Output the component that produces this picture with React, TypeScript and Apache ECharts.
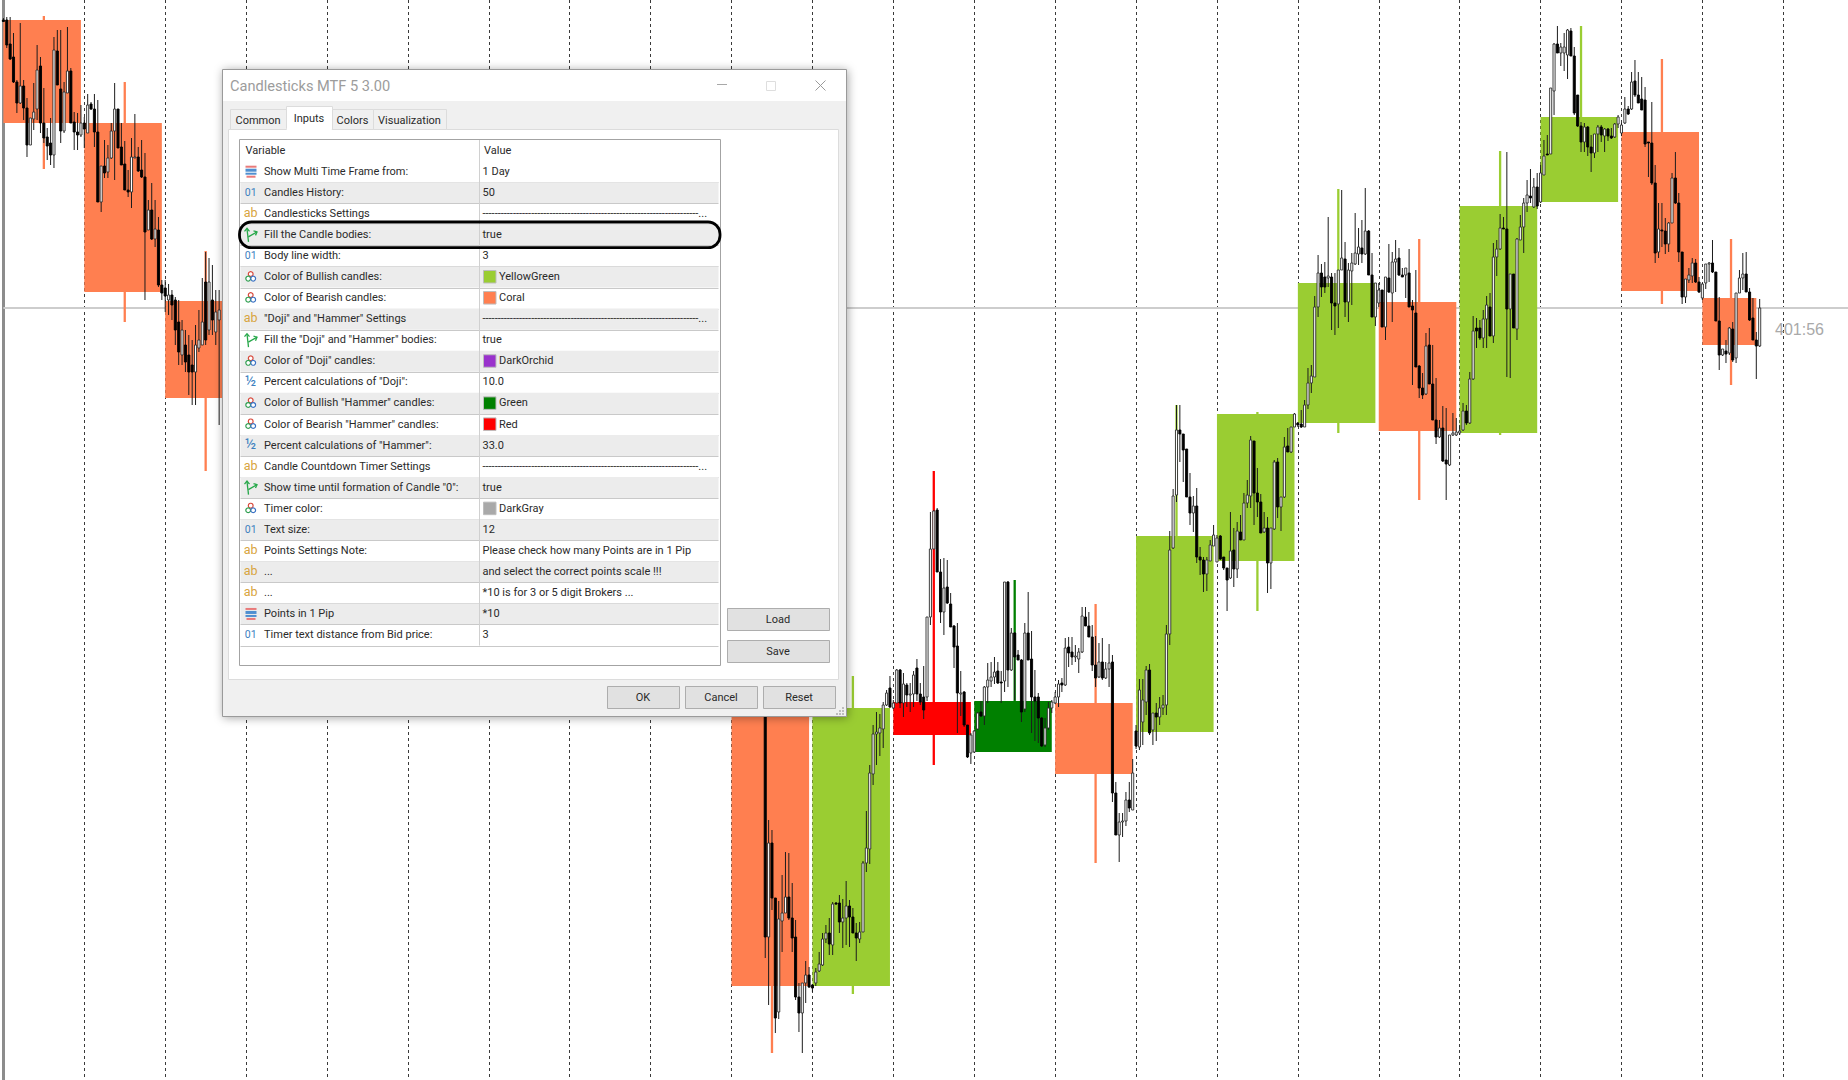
import React, { useEffect, useRef } from "react";
import * as echarts from "echarts";

// Price is read in points below the chart's ceiling, so the price axis runs downward.
const HOURS_PER_DAY = 24;
const AXIS_MIN = -24;
const AXIS_MAX = 523.2;
const BID_PRICE = 308;

// Daily candles (multi time frame bodies)
const dayIndex = [-1, 0, 1, 8, 9, 10, 11, 12, 13, 14, 15, 16, 17, 18, 19, 20];
const dayOpen = [20, 123, 301, 690, 986, 702, 752, 703, 732, 561, 423, 302, 433, 202, 132, 298];
const dayClose = [123, 292, 398, 986, 708, 735, 701, 774, 536, 414, 283, 431, 206, 117, 291, 345];
const dayHigh = [16, 82, 251, 690, 676, 471, 580, 604, 405, 412, 189, 239, 151, 26, 59, 239];
const dayLow = [169, 322, 471, 1053, 994, 765, 752, 863, 611, 611, 433, 500, 435, 202, 304, 385];
const dayKind = ["bear", "bear", "bear", "bear", "bull", "hammerBear", "hammerBull", "bear", "bull", "bull", "bull", "bear", "bull", "bull", "bear", "bear"];
const daySpan = [23, 23, 23, 23, 23, 23, 23, 23, 23, 23, 23, 23, 23, 23, 23, 16];

// Hourly candles: [open, close, high, low]
const barsDayM1 = [[20,21.5,18,21.5],[20,45,17,48],[44,59,17,60],[57,82,33,83],[82,103,80,113],[103,86,23,104],[86,108,80,120],[108,145,98,157],[145,118,118,145],[119,112,83,130],[109,70,45,120],[66,123,57,133],[123,138,88,143],[137,146,128,160],[143,155,118,165],[155,50,37,168],[51,85,30,85],[89,131,30,143],[131,92,82,133],[93,71,27,93],[71,123,68,123],[122,132,112,150],[132,135,113,150],[135,123,105,137]];
const barsDay0 = [[123,129,117,148],[133,105,94,133],[104,109,102,110],[109,132,94,147],[132,202,100,202],[202,166,166,212],[166,173,140,178],[172,158,145,178],[158,131,123,159],[131,109,83,180],[109,148,109,148],[147,165,123,165],[164,190,141,190],[190,192,170,197],[192,157,138,208],[158,157,114,158],[157,171,147,172],[170,177,140,178],[177,232,153,300],[230,210,200,230],[210,239,183,240],[239,229,200,247],[230,285,217,287],[285,293,280,300]];
const barsDay1 = [[288,296,280,312],[300,295,284,315],[295,305,290,320],[300,330,297,345],[322,352,300,365],[355,330,320,365],[345,362,330,372],[355,372,335,395],[365,372,340,405],[372,345,325,405],[348,340,310,352],[345,322,278,345],[282,340,252,345],[330,282,258,335],[300,320,265,335],[332,312,290,345],[320,310,290,425]];
const barsDay8 = [[650,937,640,958],[937,843,820,1005],[843,898,830,910],[898,1018,898,1033],[1012,919,901,1019],[921,913,875,952],[913,897,852,913],[897,918,853,920],[918,938,883,952],[937,997,920,1000],[997,1013,983,1032],[1013,983,983,1053],[983,975,961,1003],[975,987,967,988]];
const barsDay9 = [[985,988,984,992],[983,972,968,986],[971,964,952,972],[965,939,933,966],[939,933,925,943],[933,944,918,955],[945,904,902,955],[903,904,902,905],[903,922,895,933],[922,918,899,948],[918,906,881,945],[906,917,900,947],[917,933,908,933],[933,938,923,961],[939,932,922,943],[932,863,861,932],[863,848,811,872],[849,773,765,864],[774,734,725,785],[734,732,712,765],[733,728,714,756],[729,705,702,748],[705,693,690,706],[688,707,676,708]];
const barsDay10 = [[708,703,700,709],[703,670,669,703],[670,703,669,708],[703,684,673,717],[685,695,683,707],[695,694,683,712],[694,675,671,707],[668,694,659,701],[694,702,683,705],[697,710,666,719],[697,617,617,701],[617,549,512,625],[549,511,510,548],[510,572,508,572],[572,612,559,623],[612,588,558,635],[587,603,560,604],[604,627,593,627],[626,647,625,668],[646,693,623,733],[694,693,671,716],[692,725,691,727],[725,757,725,758],[753,735,733,764]];
const barsDay11 = [[752,731,730,753],[729,713,712,730],[712,716,701,717],[716,687,686,725],[687,680,663,703],[681,677,662,687],[677,672,657,684],[671,683,662,684],[682,683,671,703],[681,582,582,692],[582,670,581,687],[670,633,628,671],[633,657,632,700],[655,660,650,660],[660,712,659,722],[709,633,623,712],[633,660,592,660],[659,697,631,733],[697,701,670,741],[697,718,693,743],[718,746,717,747],[745,728,718,747],[728,708,702,730],[708,702,700,713]];
const barsDay12 = [[703,697,692,704],[697,684,680,707],[683,685,678,692],[685,648,638,686],[647,653,637,667],[652,657,637,665],[657,656,645,662],[659,652,648,673],[652,616,607,653],[617,626,607,626],[626,637,612,637],[637,665,625,671],[665,678,636,687],[677,662,643,678],[662,678,638,680],[678,669,662,679],[669,663,644,687],[662,793,655,802],[793,835,782,835],[835,822,813,862],[822,821,813,837],[821,800,792,826],[800,808,782,812],[810,773,759,810]];
const barsDay13 = [[731,746,725,749],[747,690,679,750],[722,700,679,745],[702,670,666,715],[670,733,664,735],[730,713,713,745],[713,717,703,741],[717,708,697,725],[708,705,695,715],[705,634,625,715],[634,550,531,645],[548,496,489,549],[495,430,405,502],[430,434,405,462],[434,450,434,482],[449,497,449,497],[497,513,473,525],[513,506,496,532],[506,557,488,563],[557,560,547,575],[560,574,557,592],[574,560,557,591],[561,545,540,561],[546,535,525,546]];
const barsDay14 = [[562,538,535,562],[536,559,535,560],[557,568,557,570],[568,580,568,611],[578,551,512,579],[550,569,528,587],[569,531,522,578],[532,540,515,540],[540,503,493,540],[503,495,480,508],[496,440,436,508],[441,493,441,525],[493,502,468,517],[502,533,494,533],[532,528,512,533],[528,563,517,593],[563,528,528,589],[529,462,460,530],[462,507,458,518],[507,497,497,531],[497,447,437,498],[446,452,428,452],[452,427,427,453],[427,414,413,427]];
const barsDay15 = [[423,425,422,427],[424,427,410,428],[427,405,400,427],[405,383,368,409],[383,376,365,393],[377,307,296,377],[307,273,255,317],[273,287,264,297],[277,287,262,293],[278,276,217,287],[277,303,273,330],[303,306,273,335],[304,270,270,328],[270,258,190,270],[259,302,242,317],[302,270,263,322],[271,263,253,305],[264,253,213,265],[254,247,228,265],[248,254,220,263],[254,231,188,255],[231,275,230,275],[275,317,253,317],[317,283,283,326]];
const barsDay16 = [[303,290,283,307],[290,327,290,327],[327,277,277,340],[278,292,244,293],[293,262,252,322],[262,259,240,292],[258,275,248,276],[275,277,268,277],[275,268,268,298],[273,307,249,307],[306,310,300,385],[313,367,270,367],[366,388,365,398],[388,395,373,399],[394,346,333,395],[345,384,328,384],[384,420,345,420],[420,437,378,444],[437,428,420,438],[428,461,406,462],[460,464,408,500],[465,435,435,466],[435,433,413,436],[435,432,418,436]];
const barsDay17 = [[433,431,425,435],[430,411,403,431],[411,423,405,425],[423,379,372,424],[379,331,316,380],[328,331,318,348],[328,338,320,340],[338,319,310,348],[319,305,296,348],[307,336,293,336],[336,257,243,343],[257,249,240,276],[249,228,214,250],[228,229,217,229],[229,309,152,377],[309,274,274,378],[274,328,274,328],[329,239,238,340],[240,227,215,240],[227,203,198,253],[203,195,180,212],[196,198,169,203],[207,187,178,208],[187,206,173,209]];
const barsDay18 = [[202,173,165,203],[175,156,140,175],[154,155,135,155],[154,88,88,154],[91,44,43,115],[44,53,26,53],[53,47,43,66],[53,47,33,71],[55,30,29,79],[31,56,28,56],[56,113,47,115],[95,126,95,127],[126,142,122,152],[142,127,123,152],[127,147,126,156],[147,153,135,172],[153,134,134,158],[134,127,125,152],[127,135,125,142],[136,129,128,152],[129,136,128,141],[136,138,128,139],[137,124,123,138],[124,117,115,128]];
const barsDay19 = [[133,125,123,136],[123,109,97,124],[109,114,106,115],[109,82,72,110],[81,95,60,97],[95,103,72,103],[99,110,77,110],[100,144,87,147],[142,143,142,177],[143,183,102,185],[183,253,165,263],[252,229,203,258],[230,231,203,247],[231,244,218,254],[244,223,222,252],[223,178,173,223],[178,203,152,204],[203,252,193,262],[252,297,252,304],[297,279,279,303],[280,275,268,283],[276,263,258,283],[263,282,259,283],[282,292,277,293]];
const barsDay20 = [[298,284,283,300],[283,264,264,289],[264,263,262,282],[263,272,240,273],[272,321,272,321],[321,355,297,370],[355,349,349,356],[351,354,340,363],[353,328,327,355],[329,360,322,362],[358,293,293,363],[293,278,270,293],[278,274,253,290],[274,292,252,292],[292,320,288,321],[318,340,298,340],[340,346,332,379],[346,308,299,347]];

const barDays = [-1, 0, 1, 8, 9, 10, 11, 12, 13, 14, 15, 16, 17, 18, 19, 20];
const barFirstHour = [0, 0, 0, 10, 0, 0, 0, 0, 0, 0, 0, 0, 0, 0, 0, 0];
const barLists = [barsDayM1, barsDay0, barsDay1, barsDay8, barsDay9, barsDay10, barsDay11, barsDay12, barsDay13, barsDay14, barsDay15, barsDay16, barsDay17, barsDay18, barsDay19, barsDay20];

// Dialog contents
const tabNames = ["Common", "Inputs", "Colors", "Visualization"];
const dashes = "-----------------------------------------------------------------------...";
const rowLabels = ["Show Multi Time Frame from:", "Candles History:", "Candlesticks Settings", "Fill the Candle bodies:", "Body line width:", "Color of Bullish candles:", "Color of Bearish candles:", "\"Doji\" and \"Hammer\" Settings", "Fill the \"Doji\" and \"Hammer\" bodies:", "Color of \"Doji\" candles:", "Percent calculations of \"Doji\":", "Color of Bullish \"Hammer\" candles:", "Color of Bearish \"Hammer\" candles:", "Percent calculations of \"Hammer\":", "Candle Countdown Timer Settings", "Show time until formation of Candle \"0\":", "Timer color:", "Text size:", "Points Settings Note:", "...", "...", "Points in 1 Pip", "Timer text distance from Bid price:"];
const rowValues = ["1 Day", "50", dashes, "true", "3", "YellowGreen", "Coral", dashes, "true", "DarkOrchid", "10.0", "Green", "Red", "33.0", dashes, "true", "DarkGray", "12", "Please check how many Points are in 1 Pip", "and select the correct points scale !!!", "*10 is for 3 or 5 digit Brokers ...", "*10", "3"];
const rowIcons = ["enum", "int", "str", "bool", "int", "color", "color", "str", "bool", "color", "half", "color", "color", "half", "str", "bool", "color", "int", "str", "str", "str", "enum", "int"];
const swatchColors: Record<string, string> = { YellowGreen: "#9acd32", Coral: "#ff7f50", DarkOrchid: "#9932cc", Green: "#008000", Red: "#ff0000", DarkGray: "#a9a9a9" };
const kindColors: Record<string, string> = { bear: "#ff7f50", bull: "#9acd32", hammerBull: "#008000", hammerBear: "#ff0000" };

const UI_FONT = "Roboto";
const UI_SIZE = 11;

function buildGraphics() {
  const els: any[] = [];
  let zn = 100;
  const add = (e: any) => { els.push({ silent: true, z: zn++, ...e }); };
  const rect = (x: number, y: number, w: number, h: number, fill: string, stroke?: string, r?: number, extra?: any) =>
    add({ type: "rect", shape: { x, y, width: w, height: h, r: r || 0 }, style: { fill, stroke: stroke || undefined, lineWidth: stroke ? 1 : 0, ...(extra || {}) } });
  const line = (x1: number, y1: number, x2: number, y2: number, stroke: string, lineWidth = 1) =>
    add({ type: "line", shape: { x1, y1, x2, y2 }, style: { stroke, lineWidth } });
  const text = (x: number, y: number, t: string, size = UI_SIZE, fill = "#2a2a2a", align = "left", family = UI_FONT) =>
    add({ type: "text", x, y, style: { text: t, fill, fontSize: size, fontFamily: family, align, verticalAlign: "middle" } });
  const poly = (points: number[][], stroke: string, lineWidth = 1.3) =>
    add({ type: "polyline", shape: { points }, style: { stroke, lineWidth, fill: "none" } });
  const circle = (cx: number, cy: number, r: number, stroke: string) =>
    add({ type: "circle", shape: { cx, cy, r }, style: { fill: "#fff", stroke, lineWidth: 1.2 } });

  // timer
  text(1775, 329, "401:56", 16, "#a9a9a9", "left", "Liberation Sans");

  // window
  rect(222.5, 69.5, 624, 647, "#f0f0f0", "#9a9a9a", 0, { shadowBlur: 10, shadowColor: "rgba(0,0,0,0.35)", shadowOffsetX: 1, shadowOffsetY: 1 });
  rect(223, 70, 623, 31, "#ffffff");
  text(230, 85.5, "Candlesticks MTF 5 3.00", 14.6, "#9c9c9c");
  line(717, 84.5, 727, 84.5, "#a8a8a8");
  rect(766.5, 81.5, 9, 9, "#ffffff", "#dedede");
  line(815.5, 80.5, 825.5, 90.5, "#9a9a9a");
  line(825.5, 80.5, 815.5, 90.5, "#9a9a9a");

  // tab panel and tabs
  rect(228.5, 129.5, 610, 550, "#ffffff", "#dcdcdc");
  const tabX = [230, 286, 332, 373, 446];
  tabNames.forEach((name, i) => {
    const active = name === "Inputs";
    rect(tabX[i] + 0.5, active ? 106.5 : 109.5, tabX[i + 1] - tabX[i], active ? 23 : 20, active ? "#ffffff" : "#f0f0f0", "#dcdcdc");
    text((tabX[i] + tabX[i + 1]) / 2, active ? 118 : 120, name, UI_SIZE, "#2a2a2a", "center");
  });
  rect(286.8, 128, 45, 3, "#ffffff");

  // list
  rect(239.5, 139.5, 481, 526, "#ffffff", "#a3a3a3");
  text(245.5, 150.5, "Variable");
  text(484, 150.5, "Value");
  const rowH = 21.06;
  const firstCy = 171.7;
  rowLabels.forEach((label, i) => {
    const cy = firstCy + i * rowH;
    if (i % 2 === 1) rect(240.5, cy - rowH / 2, 478, rowH, "#ececec");
    line(240.5, Math.round(cy + rowH / 2) + 0.5, 718.5, Math.round(cy + rowH / 2) + 0.5, "#c9c9c9");
    const ix = 250.7;
    const kind = rowIcons[i];
    if (kind === "int") text(ix, cy - 0.5, "01", 10.5, "#3d80bf", "center");
    else if (kind === "str") text(ix, cy - 1.5, "ab", 12.5, "#d8a440", "center");
    else if (kind === "half") text(ix, cy - 1, "½", 14.5, "#3d80bf", "center");
    else if (kind === "enum") {
      rect(245.5, cy - 6, 11, 2, "#e87a7a");
      rect(245.5, cy - 3, 11, 3, "#4f8fd0");
      rect(245.5, cy + 1, 11, 2, "#4f8fd0");
      rect(246.5, cy + 4, 9, 2, "#e87a7a");
    } else if (kind === "bool") {
      poly([[248.5, cy + 7], [247, cy - 6]], "#27a84a");
      poly([[244.5, cy - 3.5], [247, cy - 6.5], [249.5, cy - 3.5]], "#27a84a");
      poly([[248.3, cy + 2], [257, cy - 3]], "#27a84a");
      poly([[253.5, cy - 4], [257, cy - 3], [255.5, cy + 0.5]], "#27a84a");
    } else if (kind === "color") {
      circle(250.7, cy - 3, 2.4, "#d9483b");
      circle(248.2, cy + 1.6, 2.4, "#2e9e4f");
      circle(253.2, cy + 1.6, 2.4, "#3a72c4");
    }
    text(264, cy - 0.4, label);
    const value = rowValues[i];
    const swatch = swatchColors[value];
    if (swatch) {
      rect(483.5, cy - 6.5, 12.5, 12.5, swatch, "#bdbdbd");
      text(499, cy - 0.4, value);
    } else {
      text(482.5, cy - 0.4, value);
    }
  });
  line(479.5, 140, 479.5, firstCy + 22 * rowH + rowH / 2, "#d0d0d0");
  rect(239.5, 222, 480.5, 25.7, "none", "#000000", 12, { lineWidth: 2.8 });

  // buttons
  const button = (x: number, y: number, w: number, h: number, label: string) => {
    rect(x + 0.5, y + 0.5, w, h, "#e1e1e1", "#adadad");
    text(x + w / 2, y + h / 2 + 0.5, label, UI_SIZE, "#2a2a2a", "center");
  };
  button(727, 608, 102, 22, "Load");
  button(727, 640, 102, 22, "Save");
  button(607, 686, 72, 22, "OK");
  button(685, 686, 72, 22, "Cancel");
  button(763, 686, 72, 22, "Reset");
  [[843, 708], [840, 711], [843, 711], [837, 714], [840, 714], [843, 714]].forEach(([x, y]) => rect(x - 1, y - 1, 2, 2, "#bdbdbd"));
  return els;
}

const renderDay = (params: any, api: any) => {
  const k = api.value(0) * HOURS_PER_DAY;
  const span = api.value(5);
  const [x1, yOpen] = api.coord([k, api.value(1)]);
  const yClose = api.coord([k, api.value(2)])[1];
  const yHigh = api.coord([k, api.value(3)])[1];
  const yLow = api.coord([k, api.value(4)])[1];
  const x2 = api.coord([k + span, 0])[0];
  const wick = api.coord([k + (span + 1) / 2, 0])[0];
  const color = kindColors[dayKind[params.dataIndex]];
  return {
    type: "group",
    children: [
      { type: "rect", shape: { x: wick - 1.15, y: yHigh, width: 2.3, height: yLow - yHigh }, style: { fill: color } },
      { type: "rect", shape: { x: x1, y: Math.min(yOpen, yClose), width: x2 - x1, height: Math.abs(yOpen - yClose) }, style: { fill: color } },
    ],
  };
};

const renderBar = (_: any, api: any) => {
  const h = api.value(0);
  const o = api.value(1);
  const c = api.value(2);
  const [x, yOpen] = api.coord([h, o]);
  const yClose = api.coord([h, c])[1];
  const yHigh = api.coord([h, api.value(3)])[1];
  const yLow = api.coord([h, api.value(4)])[1];
  const w = api.size([0.62, 0])[0];
  const up = c < o;
  const top = Math.min(yOpen, yClose);
  return {
    type: "group",
    children: [
      { type: "line", shape: { x1: x, y1: yHigh, x2: x, y2: yLow }, style: { stroke: "#1c1c1c", lineWidth: 1 } },
      {
        type: "rect",
        shape: { x: x - w / 2, y: top, width: w, height: Math.max(Math.abs(yOpen - yClose), 1) },
        style: { fill: up ? "#ffffff" : "#000000", stroke: up ? "#2c2c2c" : "#000000", lineWidth: 0.9 },
      },
    ],
  };
};

export default function App() {
  const ref = useRef<HTMLDivElement>(null);
  useEffect(() => {
    const chart = echarts.init(ref.current!, undefined, { renderer: "svg" });
    const dayData = dayIndex.map((k, i) => [k, dayOpen[i], dayClose[i], dayHigh[i], dayLow[i], daySpan[i]]);
    const barData: number[][] = [];
    barDays.forEach((k, d) => {
      barLists[d].forEach((b, i) => barData.push([k * HOURS_PER_DAY + barFirstHour[d] + i, b[0], b[1], b[2], b[3]]));
    });
    chart.setOption({
      animation: false,
      backgroundColor: "#ffffff",
      grid: { left: 3.4, right: 0, top: 0, bottom: 0, containLabel: false },
      xAxis: {
        type: "value",
        min: AXIS_MIN,
        max: AXIS_MAX,
        interval: HOURS_PER_DAY,
        axisLine: { show: false },
        axisTick: { show: false },
        axisLabel: { show: false },
        splitLine: { show: true, showMinLine: false, showMaxLine: false, lineStyle: { color: "#3a3a3a", width: 1, type: [3, 3] } },
      },
      yAxis: {
        type: "value",
        inverse: true,
        min: 0,
        max: 1080,
        axisLine: { show: true, onZero: false, lineStyle: { color: "#8c8c8c", width: 3 } },
        axisTick: { show: false },
        axisLabel: { show: false },
        splitLine: { show: false },
      },
      series: [
        {
          type: "line",
          name: "Bid",
          z: 1,
          showSymbol: false,
          silent: true,
          data: [[AXIS_MIN, BID_PRICE], [AXIS_MAX, BID_PRICE]],
          lineStyle: { color: "#cdcdcd", width: 2 },
        },
        { type: "custom", name: "Daily", z: 2, clip: false, silent: true, renderItem: renderDay, encode: { x: 0, y: [1, 2, 3, 4] }, data: dayData },
        { type: "custom", name: "Hourly", z: 3, clip: false, silent: true, renderItem: renderBar, encode: { x: 0, y: [1, 2, 3, 4] }, data: barData },
      ],
      graphic: { elements: buildGraphics() },
    });
    return () => chart.dispose();
  }, []);
  return <div ref={ref} style={{ position: "absolute", left: 0, top: 0, width: 1848, height: 1080, background: "#fff" }} />;
}
